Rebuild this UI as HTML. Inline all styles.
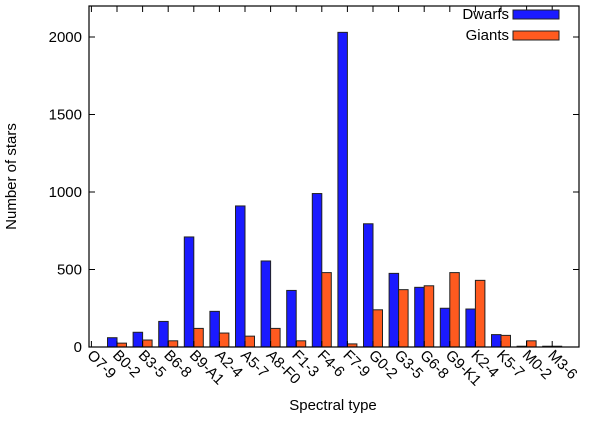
<!DOCTYPE html>
<html><head><meta charset="utf-8"><style>
body{margin:0;background:#fff}
svg text{font-family:"Liberation Sans",sans-serif;font-size:15px;fill:#000}
</style></head><body>
<svg id="c" width="600" height="418" xmlns="http://www.w3.org/2000/svg"></svg>
<script>
const categories=["O7-9","B0-2","B3-5","B6-8","B9-A1","A2-4","A5-7","A8-F0","F1-3","F4-6","F7-9","G0-2","G3-5","G6-8","G9-K1","K2-4","K5-7","M0-2","M3-6"];
const dwarfs=[0,60,95,165,710,230,910,555,365,990,2030,795,475,385,250,245,80,5,5];
const giants=[0,25,45,40,120,90,70,120,40,480,20,240,370,395,480,430,75,40,5];
const yTicks=[0,500,1000,1500,2000];
const L=89,R=579,T=6,B=347,yMax=2200;
const svg=document.getElementById('c');
const NS='http://www.w3.org/2000/svg';
function y(v){return B-(B-T)*v/yMax;}
const step=25.6;
function x(i){return 91.4+step*i;}
function mk(t,a,txt){const e=document.createElementNS(NS,t);for(const k in a)e.setAttribute(k,a[k]);if(txt!==undefined)e.textContent=txt;svg.appendChild(e);return e;}
const bw=9.5;
categories.forEach((c,i)=>{
 if(dwarfs[i]>0){const r=mk('rect',{x:x(i)-bw,y:y(dwarfs[i]),width:bw,height:B-y(dwarfs[i]),fill:'#1a1aff',stroke:'#222','stroke-width':1});
 
 }
 if(giants[i]>0){const r=mk('rect',{x:x(i),y:y(giants[i]),width:bw,height:B-y(giants[i]),fill:'#ff5a1f',stroke:'#222','stroke-width':1});
 
 }
 mk('line',{x1:x(i),x2:x(i),y1:B,y2:B-6,stroke:'#000'});
 mk('line',{x1:x(i),x2:x(i),y1:T,y2:T+6,stroke:'#000'});
 const ax=x(i)-5,ay=B+9;
 const t=mk('text',{x:ax,y:ay,'text-anchor':'start',transform:`rotate(45 ${ax} ${ay})`},c);
 
 
});
yTicks.forEach(v=>{
 mk('line',{x1:L,x2:L+6,y1:y(v),y2:y(v),stroke:'#000'});
 mk('line',{x1:R,x2:R-6,y1:y(v),y2:y(v),stroke:'#000'});
 const t=mk('text',{x:L-7,y:y(v)+5,'text-anchor':'end'},v);
 
 
});
const f=mk('rect',{x:L,y:T,width:R-L,height:B-T,fill:'none',stroke:'#000','stroke-width':1.2});


const yl=mk('text',{x:16,y:(T+B)/2,'text-anchor':'middle',transform:`rotate(-90 16 ${(T+B)/2})`},'Number of stars');


const xl=mk('text',{x:333,y:410,'text-anchor':'middle'},'Spectral type');


[['Dwarfs','#1a1aff',14],['Giants','#ff5a1f',35]].forEach(([n,c,yy])=>{
 const t=mk('text',{x:509,y:yy+5,'text-anchor':'end'},n);
 
 
 const r=mk('rect',{x:513,y:yy-4,width:46,height:9,fill:c,stroke:'#222'});
 
 
});
</script>
</body></html>
